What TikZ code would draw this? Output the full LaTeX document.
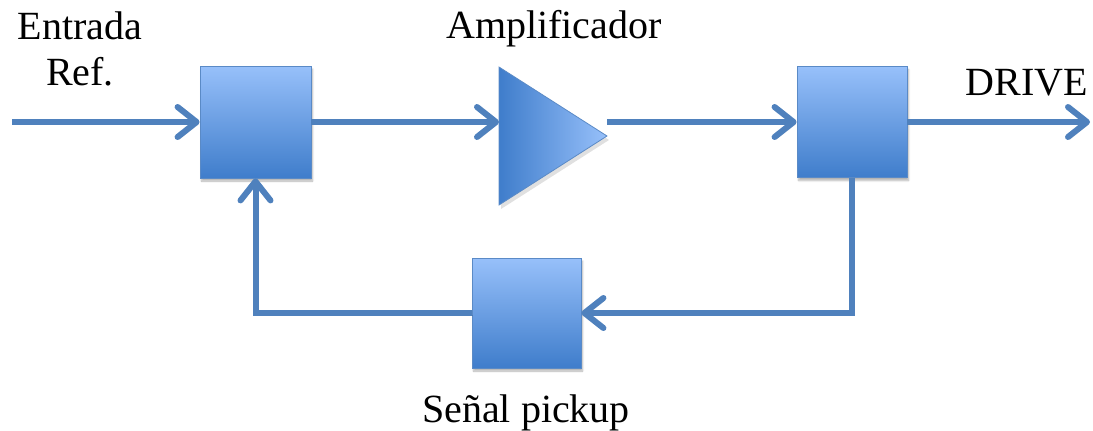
\documentclass[tikz,border=0pt]{standalone}
\usepackage{fontspec}
\setmainfont{Liberation Serif}
\newfontfamily\labelfont{Liberation Serif}
\usetikzlibrary{arrows.meta,shadows.blur}

\definecolor{wire}{HTML}{4F81BD}
\definecolor{boxtop}{HTML}{97C0FA}
\definecolor{boxbot}{HTML}{3F7DCB}
\definecolor{boxline}{HTML}{5A8AC6}

\tikzset{
  block/.style={draw=boxline, line width=0.8pt, top color=boxtop, bottom color=boxbot,
    inner sep=0pt, blur shadow={shadow xshift=1.5pt, shadow yshift=-3pt, shadow opacity=30, shadow blur steps=6}},
  wireline/.style={draw=wire, line width=6pt,
    preaction={draw=black, draw opacity=0.12, transform canvas={xshift=1.5pt, yshift=-2.5pt}}},
  flow/.style={wireline, -{Straight Barb[length=19pt, width=30pt, line width=0pt 1, round]}},
  label/.style={font=\labelfont\fontsize{40}{46}\selectfont, inner sep=0pt, text=black}
}

\begin{document}
\begin{tikzpicture}[x=1pt, y=-1pt]
  \useasboundingbox (0,0) rectangle (1093,431);

  % blocks
  \node[block, minimum width=111pt, minimum height=112pt] (comp) at (255.5,122) {};
  \node[block, minimum width=110pt, minimum height=111pt] (out) at (852,122) {};
  \node[block, minimum width=109pt, minimum height=110pt] (pick) at (526.5,313) {};

  % amplifier triangle
  \fill[black, opacity=0.12] (501,71) -- (501,209) -- (609,140) -- cycle;
  \draw[draw=boxline, line width=0.8pt, left color=boxbot, right color=boxtop]
    (499,67) -- (499,205) -- (607,136) -- cycle;
  \coordinate (ampin) at (499,122);
  \coordinate (ampout) at (607,122);

  % signal path
  \coordinate (src) at (12,122);
  \coordinate (drive) at (1090,122);
  \draw[flow] (src) -- (comp.west);
  \draw[flow] (comp.east) -- (ampin);
  \draw[flow] (ampout) -- (out.west);
  \draw[flow] (out.east) -- (drive);

  % feedback loop
  \draw[flow] (out.south) |- (pick.east);
  \draw[flow] (pick.west) -| (comp.south);

  % labels
  \node[label, align=center] (lin) at (80,49.4) {Entrada\\Ref.};
  \node[label, anchor=base] (lamp) at (554,38) {Amplificador};
  \node[label, anchor=base] (ldrive) at (1027,95) {DRIVE};
  \node[label, anchor=base] (lpick) at (526,422) {Señal pickup};
\end{tikzpicture}
\end{document}
